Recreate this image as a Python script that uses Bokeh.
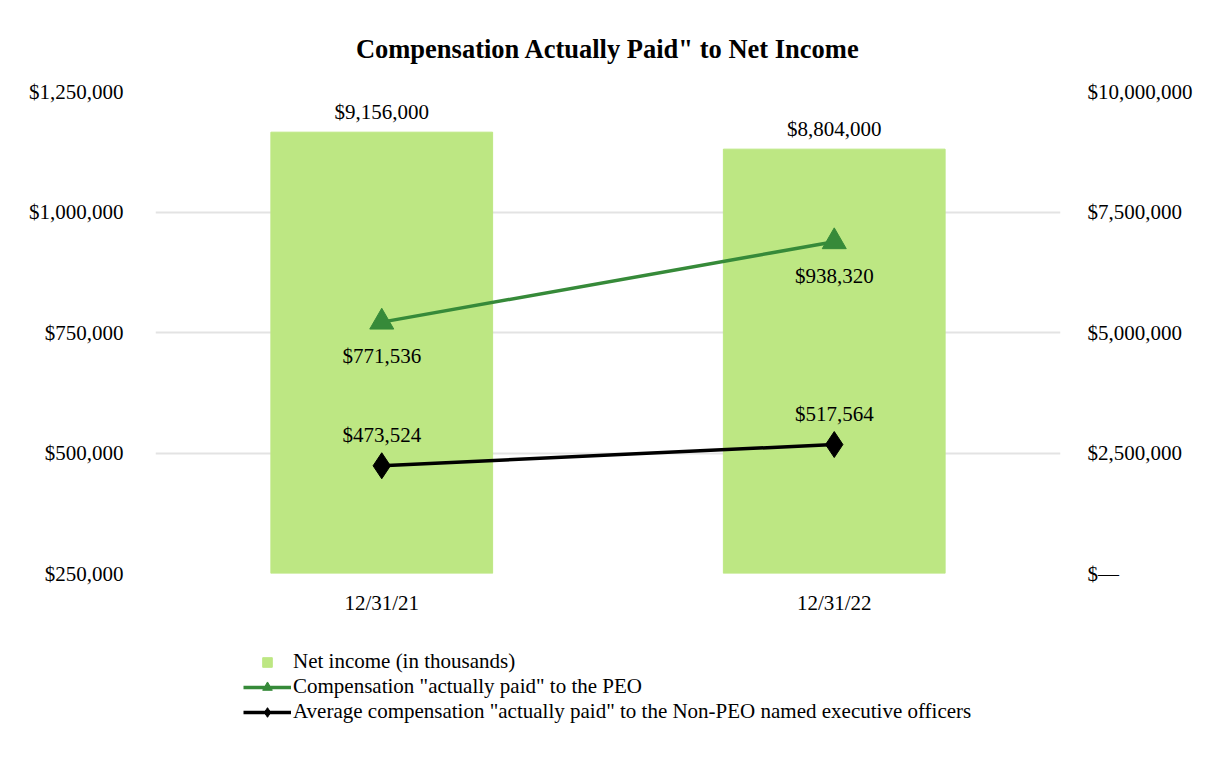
from bokeh.plotting import figure
from bokeh.layouts import column
from bokeh.models import (ColumnDataSource, Range1d, LinearAxis, FixedTicker, NumeralTickFormatter,
                          CustomJSTickFormatter, LabelSet, Legend, LegendItem, FactorRange)
from bokeh.embed import file_html
from bokeh.resources import INLINE

dates = ["12/31/21", "12/31/22"]
net_income = [9156000, 8804000]
peo_cap = [771536, 938320]
non_peo_cap = [473524, 517564]

net_labels = ["$9,156,000", "$8,804,000"]
peo_labels = ["$771,536", "$938,320"]
non_peo_labels = ["$473,524", "$517,564"]

series_names = ["Net income (in thousands)",
                'Compensation "actually paid" to the PEO',
                'Average compensation "actually paid" to the Non-PEO named executive officers']

FONT = "Liberation Serif"
FS = "21px"
BAR_COLOR = "#bde783"
GREEN = "#368a39"

src = ColumnDataSource(dict(x=dates, net=net_income, peo=peo_cap, non=non_peo_cap,
                            net_l=net_labels, peo_l=peo_labels, non_l=non_peo_labels))

p = figure(width=1226, height=630, x_range=FactorRange(*dates, range_padding=0),
           y_range=Range1d(250000, 1250000), output_backend="svg", toolbar_location=None,
           min_border_left=155, min_border_right=166, min_border_top=91, min_border_bottom=57)
p.x_range.range_padding = 0
p.outline_line_color = None
p.title.text = 'Compensation Actually Paid" to Net Income'
p.title.align = "center"
p.title.text_font = FONT
p.title.text_font_size = "26.5px"
p.title.text_font_style = "bold"
p.title.text_color = "black"
p.title.offset = 0
p.title.standoff = 56

p.extra_y_ranges = {"right": Range1d(0, 10000000)}

p.vbar(x="x", top="net", bottom=0, width=0.49, source=src, color=BAR_COLOR,
       y_range_name="right")
p.line(x="x", y="peo", source=src, line_color=GREEN, line_width=3.5)
p.scatter(x="x", y="peo", source=src, marker="triangle", size=24,
          fill_color=GREEN, line_color=GREEN)
p.line(x="x", y="non", source=src, line_color="black", line_width=3.5)
p.scatter(x="x", y="non", source=src, marker="diamond", size=26,
          fill_color="black", line_color="black")

for lbl in [
    LabelSet(x="x", y="net", text="net_l", source=src, y_range_name="right", y_offset=8,
             text_align="center", text_baseline="bottom"),
    LabelSet(x="x", y="peo", text="peo_l", source=src, y_offset=-22,
             text_align="center", text_baseline="top"),
    LabelSet(x="x", y="non", text="non_l", source=src, y_offset=19,
             text_align="center", text_baseline="bottom"),
]:
    lbl.text_font = FONT
    lbl.text_font_size = FS
    lbl.text_color = "black"
    p.add_layout(lbl)

ya = p.yaxis[0]
ya.ticker = FixedTicker(ticks=[250000, 500000, 750000, 1000000, 1250000])
ya.formatter = NumeralTickFormatter(format="$0,0")
ra = LinearAxis(y_range_name="right", ticker=FixedTicker(ticks=[0, 2500000, 5000000, 7500000, 10000000]))
ra.formatter = CustomJSTickFormatter(code="""
if (tick == 0) { return '$\u2014'; }
return '$' + tick.toFixed(0).replace(/\\B(?=(\\d{3})+(?!\\d))/g, ',');
""")
p.add_layout(ra, "right")

for ax in [ya, ra, p.xaxis[0]]:
    ax.axis_line_color = None
    ax.major_tick_line_color = None
    ax.minor_tick_line_color = None
    ax.major_label_text_font = FONT
    ax.major_label_text_font_size = FS
    ax.major_label_text_color = "black"
ya.major_label_standoff = 26
ra.major_label_standoff = 21
p.xaxis[0].major_label_standoff = 11

p.xgrid.grid_line_color = None
p.ygrid.grid_line_color = "#e3e3e3"
p.ygrid.grid_line_width = 2

# legend panel
lg = figure(width=1226, height=130, x_range=Range1d(0, 1), y_range=Range1d(0, 1),
            output_backend="svg", toolbar_location=None,
            min_border_left=0, min_border_right=0, min_border_top=0, min_border_bottom=0)
lg.axis.visible = False
lg.grid.grid_line_color = None
lg.outline_line_color = None
nan = float("nan")
empty = ColumnDataSource(dict(x=[nan], y=[nan]))
r_bar = lg.scatter(x="x", y="y", source=empty, marker="square", size=23,
                   fill_color=BAR_COLOR, line_color=BAR_COLOR)
r_pl = lg.line(x="x", y="y", source=empty, line_color=GREEN, line_width=3.5)
r_pm = lg.scatter(x="x", y="y", source=empty, marker="triangle", size=24,
                  fill_color=GREEN, line_color=GREEN)
r_nl = lg.line(x="x", y="y", source=empty, line_color="black", line_width=3.5)
r_nm = lg.scatter(x="x", y="y", source=empty, marker="diamond", size=26,
                  fill_color="black", line_color="black")

legend = Legend(items=[
    LegendItem(label=series_names[0], renderers=[r_bar]),
    LegendItem(label=series_names[1], renderers=[r_pl, r_pm]),
    LegendItem(label=series_names[2], renderers=[r_nl, r_nm]),
], location=(88, 36))
legend.border_line_color = None
legend.background_fill_alpha = 0
legend.padding = 0
legend.margin = 0
legend.spacing = 0
legend.glyph_width = 48
legend.glyph_height = 24
legend.label_height = 20
legend.label_standoff = 2
legend.label_text_font = FONT
legend.label_text_font_size = FS
legend.label_text_color = "black"
lg.add_layout(legend, "center")

open("out.html", "w").write(file_html(column(p, lg, spacing=0), INLINE))
